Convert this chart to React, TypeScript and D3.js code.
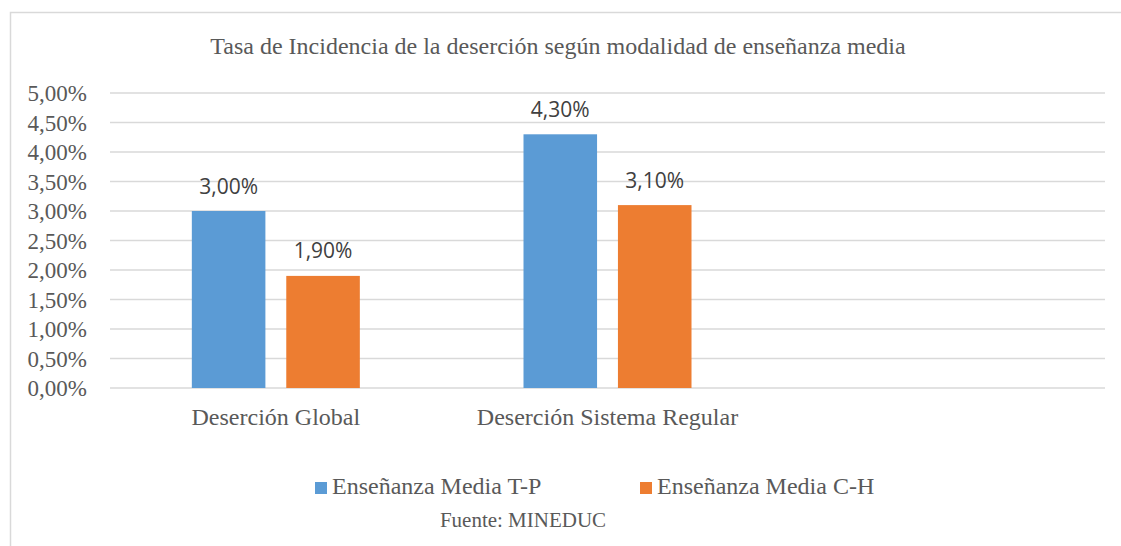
import React, { useEffect, useRef } from 'react';
import * as d3 from 'd3';

const categories = ['Deserción Global', 'Deserción Sistema Regular', ''];
const seriesNames = ['Enseñanza Media T-P', 'Enseñanza Media C-H'];
const tpValues = [3.0, 4.3];
const chValues = [1.9, 3.1];
const yTicks = [0, 0.5, 1, 1.5, 2, 2.5, 3, 3.5, 4, 4.5, 5];
const colors = ['#5B9BD5', '#ED7D31'];

const fmt = (v: number) => v.toFixed(2).replace('.', ',') + '%';

const App: React.FC = () => {
  const ref = useRef<SVGSVGElement>(null);

  useEffect(() => {
    document.body.style.margin = '0';
    if (!ref.current) return;
    const svg = d3.select(ref.current);
    svg.selectAll('*').remove();

    const W = 1121;
    const H = 546;
    const margin = { top: 93, right: 16, bottom: 158, left: 110 };
    const serif = '"Liberation Serif", "Times New Roman", serif';
    const sans = '"Open Sans", "Noto Sans", sans-serif';

    // chart border (no right edge visible in original)
    svg.append('path')
      .attr('d', `M${W + 2},12.5 H10.5 V${H + 2}`)
      .attr('fill', 'none')
      .attr('stroke', '#d9d9d9')
      .attr('stroke-width', 1.5);

    const x = d3.scaleBand()
      .domain(categories.map((c, i) => String(i)))
      .range([margin.left, W - margin.right]);
    const y = d3.scaleLinear().domain([0, 5]).range([H - margin.bottom, margin.top]);

    // gridlines
    svg.append('g')
      .selectAll('line')
      .data(yTicks)
      .enter()
      .append('line')
      .attr('x1', margin.left)
      .attr('x2', W - margin.right)
      .attr('y1', (d) => y(d))
      .attr('y2', (d) => y(d))
      .attr('stroke', '#d9d9d9')
      .attr('stroke-width', 1.5);

    // y labels
    svg.append('g')
      .selectAll('text')
      .data(yTicks)
      .enter()
      .append('text')
      .text((d) => fmt(d))
      .attr('x', 87)
      .attr('y', (d) => y(d) + 8)
      .attr('text-anchor', 'end')
      .style('font-family', serif)
      .style('font-size', '23px')
      .style('fill', '#595959');

    // title
    svg.append('text')
      .text('Tasa de Incidencia de la deserción según modalidad de enseñanza media')
      .attr('x', 558)
      .attr('y', 54)
      .attr('text-anchor', 'middle')
      .style('font-family', serif)
      .style('font-size', '24px')
      .style('fill', '#595959');

    const inner = d3.scaleBand()
      .domain(['0', '1'])
      .range([0, 168])
      .paddingInner(21 / 95);

    const series = [tpValues, chValues];
    series.forEach((vals, si) => {
      const g = svg.append('g');
      const bx = (i: number) => (x(String(i)) as number) + (x.bandwidth() - 168) / 2 + (inner(String(si)) as number);
      g.selectAll('rect')
        .data(vals)
        .enter()
        .append('rect')
        .attr('x', (d, i) => bx(i))
        .attr('y', (d) => y(d))
        .attr('width', inner.bandwidth())
        .attr('height', (d) => y(0) - y(d))
        .attr('fill', colors[si]);
      g.selectAll('text')
        .data(vals)
        .enter()
        .append('text')
        .text((d) => fmt(d))
        .attr('x', (d, i) => bx(i) + inner.bandwidth() / 2)
        .attr('y', (d) => y(d) - 17.5)
        .attr('text-anchor', 'middle')
        .style('font-family', sans)
        .style('font-size', '21px')
        .style('fill', '#404040');
    });

    // category labels
    svg.append('g')
      .selectAll('text')
      .data(categories)
      .enter()
      .append('text')
      .text((d) => d)
      .attr('x', (d, i) => (x(String(i)) as number) + x.bandwidth() / 2)
      .attr('y', 425)
      .attr('text-anchor', 'middle')
      .style('font-family', serif)
      .style('font-size', '24px')
      .style('fill', '#595959');

    // legend
    const legendX = [315, 640];
    seriesNames.forEach((name, i) => {
      svg.append('rect')
        .attr('x', legendX[i])
        .attr('y', 482)
        .attr('width', 12)
        .attr('height', 12)
        .attr('fill', colors[i]);
      svg.append('text')
        .text(name)
        .attr('x', legendX[i] + 17)
        .attr('y', 494)
        .style('font-family', serif)
        .style('font-size', '24px')
        .style('fill', '#595959');
    });

    svg.append('text')
      .text('Fuente: MINEDUC')
      .attr('x', 523)
      .attr('y', 527)
      .attr('text-anchor', 'middle')
      .style('font-family', serif)
      .style('font-size', '21px')
      .style('fill', '#595959');
  }, []);

  return <svg ref={ref} width={1121} height={546} style={{ display: 'block', background: '#fff' }} />;
};

export default App;
